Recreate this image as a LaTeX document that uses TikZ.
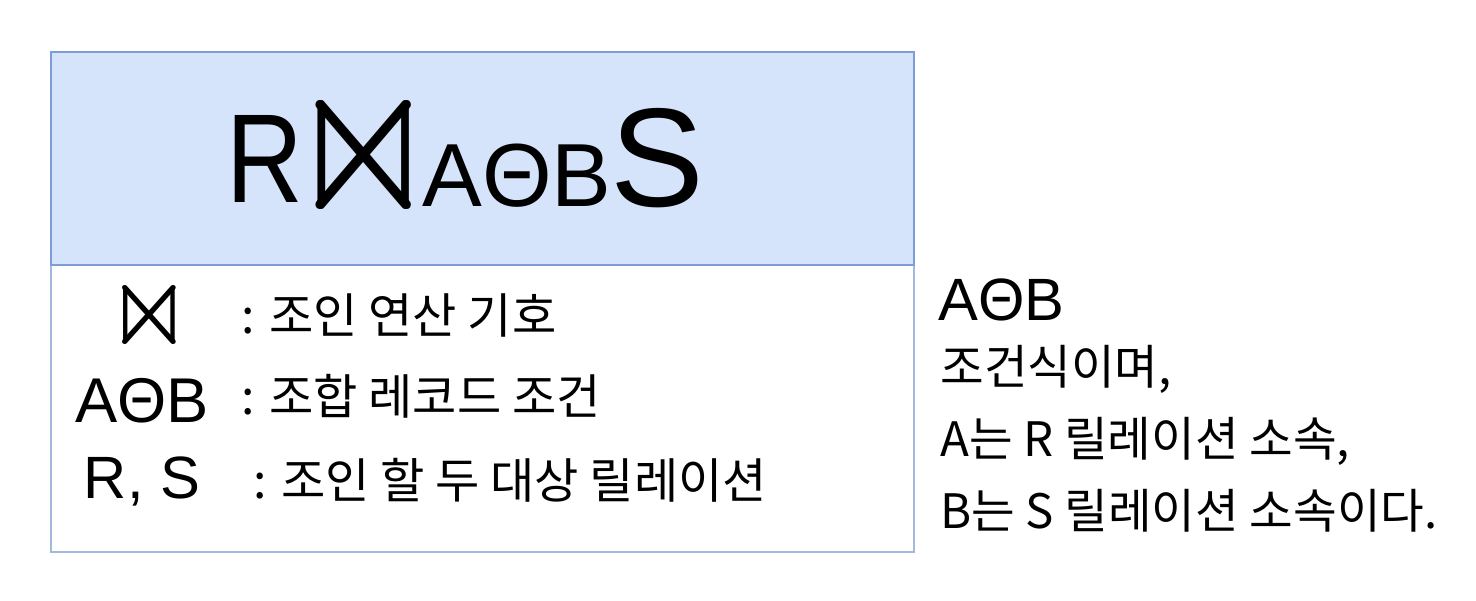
\documentclass[tikz,border=0pt]{standalone}
\usepackage{amssymb}
\usepackage{graphicx}
\usepackage{fontspec}
\setmainfont{Liberation Sans}
\newfontfamily\korfont{Noto Sans CJK KR}
\definecolor{headfill}{HTML}{D5E4FA}
\definecolor{headline}{HTML}{7C9DD6}
\definecolor{bodyline}{HTML}{A2B8DD}
\newcommand{\fsz}[1]{\fontsize{#1}{#1}\selectfont}
\newcommand{\joinsign}[3]{\makebox[#1]{\resizebox*{#2}{#3}{$\Join$}}}

\begin{document}
\begin{tikzpicture}[x=0.02cm,y=-0.02cm,
 headbox/.style={draw=headline,fill=headfill,line width=1pt,inner sep=0pt,anchor=north west,
   minimum width=17.26cm,minimum height=4.26cm},
 bodybox/.style={draw=bodyline,line width=1pt,inner sep=0pt,anchor=north west,
   minimum width=17.26cm,minimum height=5.74cm},
 lat/.style={inner sep=0pt,anchor=base},
 sym/.style={inner sep=0pt,anchor=center},
 desc/.style={inner sep=0pt,anchor=base west,font=\korfont\fsz{27.4}},
 note/.style={inner sep=0pt,anchor=base west,font=\korfont\fsz{27}}]
\useasboundingbox (0,0) rectangle (1476,601);
% box
\node[bodybox] (body) at (50,264) {};
\node[headbox] (head) at (50,51) {};
% join expression
\node[lat,font=\fsz{72}] (relr) at (265,202) {\scalebox{0.84}[1]{R}};
\node[sym] (join) at (364,155) {\joinsign{1.84cm}{3.05cm}{3.0cm}};
\node[lat,font=\fsz{51}] (cond) at (517,207) {AΘB};
\node[lat,font=\fsz{80}] (rels) at (657,207) {S};
% legend
\node[sym] (joinsym) at (149,315) {\joinsign{1.04cm}{1.72cm}{1.62cm}};
\node[lat,font=\fsz{36}] (condsym) at (142,422) {AΘB};
\node[lat,font=\fsz{34}] (relsym) at (142,498) {R, S};
\node[desc] (joindesc) at (241,333) {: 조인 연산 기호};
\node[desc] (conddesc) at (241,414) {: 조합 레코드 조건};
\node[desc] (reldesc) at (253,498) {: 조인 할 두 대상 릴레이션};
% note
\node[lat,anchor=base west,font=\fsz{34}] (condnote) at (938,320) {AΘB};
\node[note] (note1) at (940,384) {조건식이며,};
\node[note] (note2) at (940,456) {A는 R 릴레이션 소속,};
\node[note] (note3) at (940,528) {B는 S 릴레이션 소속이다.};
\end{tikzpicture}
\end{document}
